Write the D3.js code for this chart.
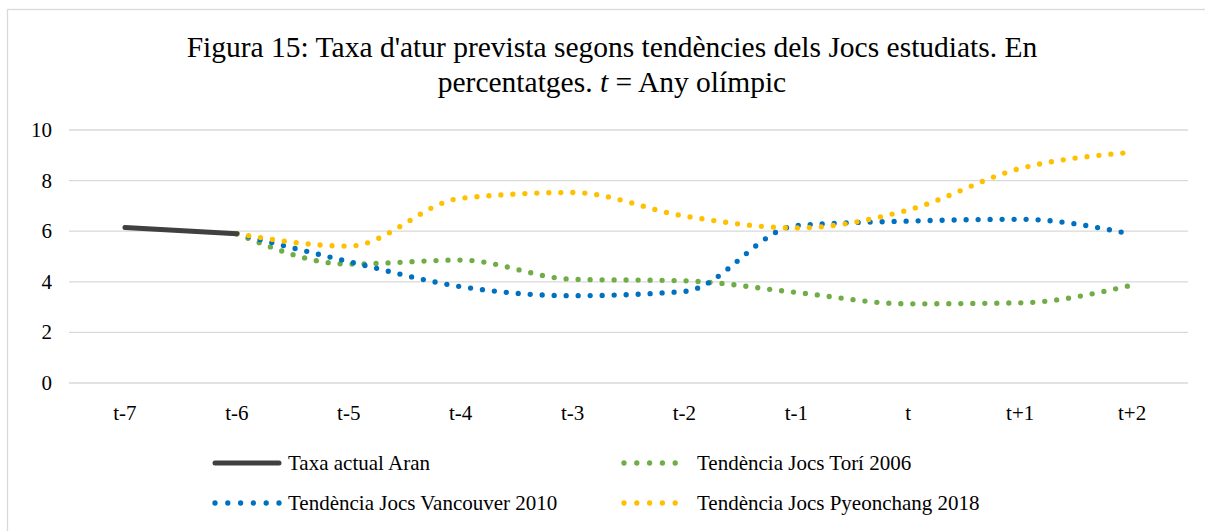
<!DOCTYPE html>
<html>
<head>
  <meta charset="utf-8">
  <title>Figura 15</title>
  <script src="https://cdn.jsdelivr.net/npm/d3@7"></script>
  <style>
    body { margin: 0; background: #fff; }
    svg text { font-family: "Liberation Serif", "Times New Roman", serif; fill: #000; }
  </style>
</head>
<body>
<svg id="chart" width="1205" height="531"></svg>
<script>
  // categories and series
  var periods = ['t-7', 't-6', 't-5', 't-4', 't-3', 't-2', 't-1', 't', 't+1', 't+2'];
  var aran = [6.15, 5.9, null, null, null, null, null, null, null, null];
  var tori = [null, 5.9, 4.7, 4.86, 4.1, 4.04, 3.58, 3.13, 3.17, 3.87];
  var vancouver = [null, 5.9, 4.8, 3.81, 3.45, 3.62, 6.22, 6.4, 6.47, 5.88];
  var pyeongchang = [null, 5.9, 5.41, 7.3, 7.53, 6.6, 6.13, 6.84, 8.48, 9.12];
  var yTicks = [0, 2, 4, 6, 8, 10];

  var seriesNames = ['Taxa actual Aran', 'Tendència Jocs Torí 2006', 'Tendència Jocs Vancouver 2010', 'Tendència Jocs Pyeonchang 2018'];
  var seriesValues = [aran, tori, vancouver, pyeongchang];
  var seriesColors = ['#404040', '#70ad47', '#0070c0', '#ffc000'];

  var svg = d3.select('#chart');
  var plotLeft = 69, plotRight = 1188, plotTop = 130, plotBottom = 383;

  // outer frame
  svg.append('rect')
    .attr('x', 7.5).attr('y', 9.5)
    .attr('width', 1220).attr('height', 540)
    .attr('fill', 'none').attr('stroke', '#d9d9d9').attr('stroke-width', 1.3);

  // title
  svg.append('text').attr('text-anchor', 'middle').attr('x', 612).attr('y', 57)
    .style('font-size', '29.5px')
    .text("Figura 15: Taxa d'atur prevista segons tendències dels Jocs estudiats. En");
  var t2 = svg.append('text').attr('text-anchor', 'middle').attr('x', 612).attr('y', 92).style('font-size', '29.5px');
  t2.append('tspan').text('percentatges. ');
  t2.append('tspan').style('font-style', 'italic').text('t');
  t2.append('tspan').text(' = Any olímpic');

  var x = d3.scaleBand().domain(periods).range([plotLeft, plotRight]);
  var y = d3.scaleLinear().domain([0, 10]).range([plotBottom, plotTop]);

  // grid
  svg.append('g').selectAll('line').data(yTicks).join('line')
    .attr('x1', plotLeft).attr('x2', plotRight)
    .attr('y1', function(d) { return y(d); }).attr('y2', function(d) { return y(d); })
    .attr('stroke', '#d9d9d9').attr('stroke-width', 1.3);

  // y labels
  svg.append('g').selectAll('text').data(yTicks).join('text')
    .attr('x', 52).attr('y', function(d) { return y(d) + 7; })
    .attr('text-anchor', 'end').style('font-size', '21px')
    .text(function(d) { return d; });

  // x labels
  svg.append('g').selectAll('text').data(periods).join('text')
    .attr('x', function(d) { return x(d) + x.bandwidth() / 2; }).attr('y', 420)
    .attr('text-anchor', 'middle').style('font-size', '21px')
    .text(function(d) { return d; });

  var line = d3.line()
    .defined(function(d) { return d != null; })
    .x(function(d, i) { return x(periods[i]) + x.bandwidth() / 2; })
    .y(function(d) { return y(d); })
    .curve(d3.curveMonotoneX);

  // dotted trend series first, then actual data on top
  [1, 2, 3].forEach(function(k) {
    svg.append('path')
      .attr('d', line(seriesValues[k]))
      .attr('fill', 'none')
      .attr('stroke', seriesColors[k])
      .attr('stroke-width', 5.3)
      .attr('stroke-linecap', 'round')
      .attr('stroke-dasharray', '0 12');
  });
  svg.append('path')
    .attr('d', line(aran))
    .attr('fill', 'none')
    .attr('stroke', seriesColors[0])
    .attr('stroke-width', 5)
    .attr('stroke-linecap', 'round');

  // legend
  var legendPos = [[213, 463], [622, 463], [213, 503], [622, 503]];
  seriesNames.forEach(function(name, k) {
    var p = legendPos[k];
    var g = svg.append('g').attr('transform', 'translate(' + p[0] + ',' + p[1] + ')');
    g.append('line')
      .attr('x1', 2).attr('x2', 66).attr('y1', 0).attr('y2', 0)
      .attr('stroke', seriesColors[k]).attr('stroke-width', k === 0 ? 5 : 5.3)
      .attr('stroke-linecap', 'round')
      .attr('stroke-dasharray', k === 0 ? null : '0 12.8');
    g.append('text').attr('x', 75).attr('y', 7)
      .style('font-size', '21px').text(name);
  });
</script>
</body>
</html>
